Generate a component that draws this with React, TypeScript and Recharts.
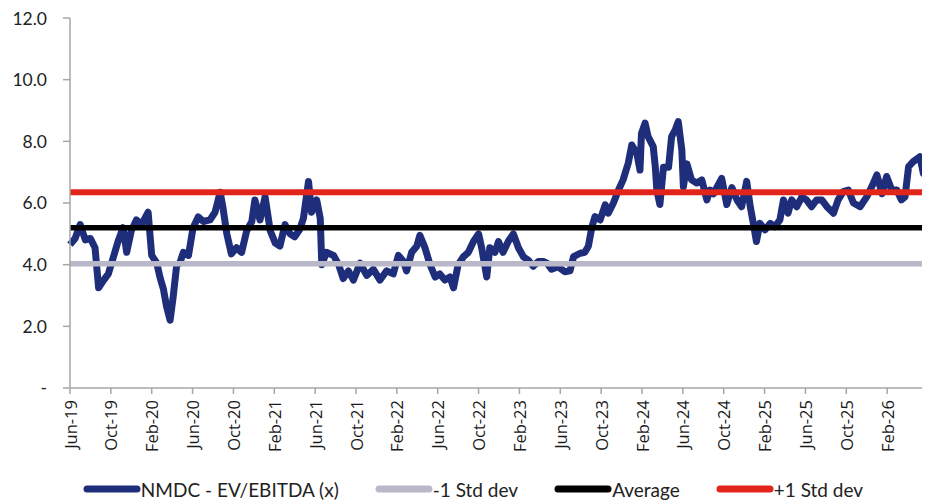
import React from "react";
import { LineChart, Line, XAxis, YAxis, Legend } from "recharts";

// months since Jun-19 and the EV/EBITDA multiple read at that point
const months = [
  0, 0.5, 1, 1.5, 2, 2.45, 2.8, 3.3, 3.75, 4.25, 4.7, 5.2, 5.55, 6, 6.5, 7, 7.65, 8, 8.5, 8.8,
  9.15, 9.45, 9.8, 10.1, 10.45, 10.75, 11.1, 11.6, 12.05, 12.55, 13.05, 13.7, 14.2, 14.7, 15,
  15.35, 15.8, 16.3, 16.8, 17.3, 17.8, 18.1, 18.6, 19.1, 19.6, 20.1, 20.55, 21.05, 21.55, 22,
  22.5, 22.85, 23.35, 23.65, 24.15, 24.5, 24.65, 25.1, 25.8, 26.3, 26.75, 27.25, 27.75, 28.4,
  29.05, 29.7, 30.35, 31, 31.65, 32.15, 32.65, 32.95, 33.45, 33.95, 34.25, 34.75, 35.25, 35.75,
  36.2, 36.7, 37.2, 37.55, 38, 38.5, 39, 39.5, 40, 40.3, 40.8, 41.1, 41.6, 41.95, 42.4, 42.9,
  43.4, 43.9, 44.4, 44.85, 45.35, 45.85, 46.35, 46.7, 47.15, 47.8, 48.45, 48.95, 49.3, 49.95,
  50.4, 50.75, 51.1, 51.4, 51.9, 52.4, 52.7, 53.2, 53.7, 54.15, 54.65, 55, 55.5, 55.8, 55.95,
  56.3, 56.6, 57.1, 57.3, 57.45, 57.75, 58.1, 58.6, 58.9, 59.25, 59.55, 59.9, 60.05, 60.4,
  60.85, 61.35, 61.85, 62.35, 62.65, 63, 63.8, 64.3, 64.8, 65.3, 65.75, 66.25, 66.6, 66.9,
  67.2, 67.55, 68.05, 68.55, 69, 69.5, 69.85, 70.3, 70.65, 71.15, 71.65, 72.1, 72.6, 73.1,
  73.6, 74.1, 74.75, 75.2, 75.7, 76.2, 76.7, 77.35, 78, 78.5, 79, 79.5, 79.95, 80.45, 80.95,
  81.4, 81.75, 82.1, 82.55, 83.2, 83.55, 84,
];

const evEbitda = [
  4.65, 4.85, 5.3, 4.8, 4.85, 4.55, 3.25, 3.5, 3.7, 4.25, 4.75, 5.2, 4.4, 5.1, 5.45, 5.3, 5.7, 4.3, 4.05, 3.6,
  3.2, 2.65, 2.2, 2.95, 4.0, 4.05, 4.4, 4.3, 5.2, 5.55, 5.4, 5.45, 5.7, 6.35, 5.8,
  5.0, 4.35, 4.55, 4.4, 5.1, 5.4, 6.1, 5.45, 6.2, 5.1, 4.7, 4.6, 5.3, 5.0, 4.9,
  5.15, 5.5, 6.7, 5.7, 6.1, 5.5, 4.0, 4.4, 4.3, 4.0, 3.55, 3.8, 3.5, 4.05,
  3.65, 3.85, 3.5, 3.8, 3.7, 4.3, 4.1, 3.8, 4.4, 4.6, 4.95, 4.55, 4.0, 3.6,
  3.7, 3.5, 3.6, 3.25, 4.0, 4.25, 4.4, 4.75, 5.0, 4.55, 3.6, 4.55, 4.4, 4.75, 4.4, 4.75,
  5.0, 4.55, 4.25, 4.15, 3.95, 4.1, 4.1, 4.05, 3.85, 3.93, 3.77, 3.8, 4.26, 4.37,
  4.4, 4.6, 5.23, 5.56, 5.45, 5.94, 5.67, 6.0, 6.42, 6.75, 7.29, 7.88, 7.61, 7.07, 8.26,
  8.59, 8.15, 7.83, 7.18, 6.42, 5.95, 7.16, 7.16, 8.15, 8.37, 8.64, 7.72, 6.53, 7.27,
  6.75, 6.65, 6.75, 6.1, 6.42, 6.3, 6.8, 5.95, 6.5, 6.1, 5.88, 6.7, 5.88, 5.34,
  4.75, 5.34, 5.13, 5.34, 5.23, 5.45, 6.1, 5.67, 6.1, 5.88, 6.2, 6.1, 5.88, 6.1,
  6.1, 5.88, 5.67, 6.1, 6.37, 6.42, 6.0, 5.88, 6.2, 6.53, 6.91, 6.3, 6.86, 6.42, 6.42,
  6.1, 6.2, 7.18, 7.34, 7.5, 6.96, 7.18,
];

const minusStd = 4.03;
const average = 5.2;
const plusStd = 6.35;

const tickLabels = [
  "Jun-19", "Oct-19", "Feb-20", "Jun-20", "Oct-20", "Feb-21", "Jun-21", "Oct-21",
  "Feb-22", "Jun-22", "Oct-22", "Feb-23", "Jun-23", "Oct-23", "Feb-24", "Jun-24",
  "Oct-24", "Feb-25", "Jun-25", "Oct-25", "Feb-26", "Jun-26",
];
const yTicks = [0, 2, 4, 6, 8, 10, 12];

const data = months.map((m, i) => ({ m, v: evEbitda[i] }));
const flat = (v: number) => [
  { m: months[0], v },
  { m: months[months.length - 1], v },
];

const series = [
  { name: "NMDC - EV/EBITDA (x)", color: "#1f2e7a" },
  { name: "-1 Std dev", color: "#b9b8c9" },
  { name: "Average", color: "#000000" },
  { name: "+1 Std dev", color: "#e1251b" },
];

const XTick = ({ x, y, payload }: any) => (
  <text
    x={x}
    y={y}
    transform={`rotate(-90 ${x} ${y})`}
    textAnchor="end"
    dominantBaseline="central"
    fontFamily="Open Sans"
    fontSize={16.5}
    fill="#1a1a1a"
  >
    {tickLabels[Math.round(payload.value / 4)]}
  </text>
);

const LegendBox = () => (
  <div
    style={{
      height: 30,
      display: "flex",
      justifyContent: "center",
      alignItems: "center",
      gap: 36,
      fontFamily: "Lato",
      fontSize: 19,
      color: "#222",
      paddingLeft: 10,
    }}
  >
    {series.map((s) => (
      <div key={s.name} style={{ display: "flex", alignItems: "center" }}>
        <svg width={58} height={10}>
          <line x1={4} y1={5} x2={54} y2={5} stroke={s.color} strokeWidth={7} strokeLinecap="round" />
        </svg>
        <span>{s.name}</span>
      </div>
    ))}
  </div>
);

export default function App() {
  return (
    <LineChart width={922} height={496} margin={{ top: 10, right: 2, left: 0, bottom: 0 }}>
      <XAxis
        dataKey="m"
        type="number"
        domain={[0, 84]}
        ticks={tickLabels.map((_, i) => i * 4)}
        interval={0}
        height={86}
        tick={<XTick />}
        tickSize={6}
        tickMargin={6}
        stroke="#a6a6a6"
        strokeWidth={1.5}
      />
      <YAxis
        type="number"
        domain={[0, 12]}
        ticks={yTicks}
        width={62}
        tickSize={7}
        tickMargin={16}
        stroke="#a6a6a6"
        strokeWidth={1.5}
        tick={{ fill: "#222", fontSize: 17.5, fontFamily: "Lato" }}
        tickFormatter={(v: number) => (v === 0 ? "-" : v.toFixed(1))}
      />
      <Legend verticalAlign="bottom" content={<LegendBox />} />
      <Line
        data={data}
        dataKey="v"
        stroke={series[0].color}
        strokeWidth={7}
        strokeLinejoin="round"
        dot={false}
        isAnimationActive={false}
      />
      <Line data={flat(minusStd)} dataKey="v" stroke={series[1].color} strokeWidth={5.5} dot={false} isAnimationActive={false} />
      <Line data={flat(average)} dataKey="v" stroke={series[2].color} strokeWidth={5.5} dot={false} isAnimationActive={false} />
      <Line data={flat(plusStd)} dataKey="v" stroke={series[3].color} strokeWidth={6} dot={false} isAnimationActive={false} />
    </LineChart>
  );
}
